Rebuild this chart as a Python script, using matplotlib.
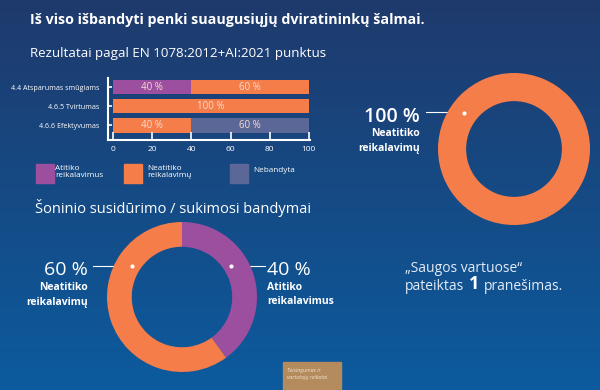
import numpy as np
import matplotlib
matplotlib.use("Agg")
import matplotlib.pyplot as plt
from matplotlib.patches import Rectangle

plt.rcParams['font.family'] = ['Open Sans', 'DejaVu Sans']

# data
criteria = ['4.4 Atsparumas smūgiams', '4.6.5 Tvirtumas', '4.6.6 Efektyvumas']
atitiko = [40, 0, 0]
neatitiko = [60, 100, 40]
nebandyta = [0, 0, 60]
legend_labels = ['Atitiko\nreikalavimus', 'Neatitiko\nreikalavimų', 'Nebandyta']
x_ticks = [0, 20, 40, 60, 80, 100]

donut1_values = [100]
donut2_values = [40, 60]   # Atitiko, Neatitiko

PURPLE = '#9c4f9f'
ORANGE = '#f47d4a'
GREY = '#5b6796'
WHITE = 'white'
LABEL = '#f6dcd0'
SOFT = '#e3ebf6'

W, H = 600, 390
fig = plt.figure(figsize=(6, 3.9), dpi=100)

# background with vertical gradient
bg = fig.add_axes([0, 0, 1, 1], zorder=0)
grad = np.linspace(0, 1, 256).reshape(-1, 1)
top = np.array([0x1f, 0x3a, 0x6c]) / 255
bot = np.array([0x0c, 0x5b, 0x9e]) / 255
img = top + (bot - top) * grad[:, :, None]
bg.imshow(img, extent=[0, W, H, 0], aspect='auto')
bg.set_xlim(0, W)
bg.set_ylim(H, 0)
bg.axis('off')

def px(x, y, w, h):
    return [x / W, 1 - (y + h) / H, w / W, h / H]

# titles
bg.text(30, 20, 'Iš viso išbandyti penki suaugusiųjų dviratininkų šalmai.',
        color=WHITE, fontsize=10.3, fontweight='bold', va='center')
bg.text(30, 53, 'Rezultatai pagal EN 1078:2012+AI:2021 punktus',
        color=WHITE, fontsize=9.6, fontweight='medium', va='center')
bg.text(35, 208, 'Šoninio susidūrimo / sukimosi bandymai',
        color=WHITE, fontsize=10.5, fontweight='medium', va='center')

# stacked bar chart
ax = fig.add_axes(px(108, 78, 202, 62), zorder=2)
ax.patch.set_alpha(0)
y = np.arange(len(criteria))
left = np.zeros(len(criteria))
for vals, col in [(atitiko, PURPLE), (neatitiko, ORANGE), (nebandyta, GREY)]:
    vals = np.array(vals)
    ax.barh(y, vals, left=left, height=0.74, color=col)
    for yi, (l, v) in enumerate(zip(left, vals)):
        if v > 0:
            ax.text(l + v / 2, yi, f'{v} %', color=LABEL, fontsize=7,
                    ha='center', va='center')
    left = left + vals
ax.set_xlim(-2.6, 100.6)
ax.set_ylim(2.76, -0.47)
ax.set_yticks(y)
ax.set_yticklabels(criteria)
ax.set_xticks(x_ticks)
for s in ['top', 'right']:
    ax.spines[s].set_visible(False)
for s in ['left', 'bottom']:
    ax.spines[s].set_color(WHITE)
    ax.spines[s].set_linewidth(1.5)
ax.tick_params(axis='x', direction='in', length=6, width=1.2, colors=WHITE,
               labelsize=6, pad=4)
ax.tick_params(axis='y', direction='in', length=3, width=1.2, colors=WHITE,
               labelsize=5.1, pad=6)

# legend boxes
for x0, col in [(36, PURPLE), (124, ORANGE), (230, GREY)]:
    bg.add_patch(Rectangle((x0, 164), 18, 19, color=col))
bg.text(55, 165, legend_labels[0], color=WHITE, fontsize=5.9, va='top', linespacing=1.0)
bg.text(147, 165, legend_labels[1], color=WHITE, fontsize=5.9, va='top', linespacing=1.0)
bg.text(253, 171, legend_labels[2], color=WHITE, fontsize=5.9, va='center')

# donut 1
d1 = fig.add_axes(px(438, 73, 152, 152), zorder=2)
d1.pie(donut1_values, colors=[ORANGE], startangle=90,
       wedgeprops=dict(width=0.37, linewidth=0))
d1.set_xlim(-1, 1)
d1.set_ylim(-1, 1)
d1.set_aspect('equal')
d1.plot([-0.66], [0.48], marker='o', ms=2, color=WHITE)

bg.text(420, 117, f'{donut1_values[0]} %', color=WHITE, fontsize=14,
        fontweight='semibold', ha='right', va='center')
bg.text(420, 134, 'Neatitiko', color=WHITE, fontsize=7.5, fontweight='bold',
        ha='right', va='center')
bg.text(420, 148, 'reikalavimų', color=WHITE, fontsize=7.5, fontweight='bold',
        ha='right', va='center')
bg.plot([426, 464], [112, 112], color=WHITE, lw=0.8, zorder=5)

# donut 2
d2 = fig.add_axes(px(107, 222, 150, 150), zorder=2)
d2.pie(donut2_values, colors=[PURPLE, ORANGE], startangle=90, counterclock=False,
       wedgeprops=dict(width=0.33, linewidth=0))
d2.set_xlim(-1, 1)
d2.set_ylim(-1, 1)
d2.set_aspect('equal')
d2.plot([-0.67, 0.65], [0.42, 0.42], 'o', ms=2, color=WHITE)

bg.text(88, 270, f'{donut2_values[1]} %', color=WHITE, fontsize=14,
        ha='right', va='center')
bg.text(88, 288, 'Neatitiko', color=WHITE, fontsize=7.5, fontweight='bold',
        ha='right', va='center')
bg.text(88, 302, 'reikalavimų', color=WHITE, fontsize=7.5, fontweight='bold',
        ha='right', va='center')
bg.plot([93, 132], [266, 266], color=WHITE, lw=0.8)
bg.text(267, 270, f'{donut2_values[0]} %', color=WHITE, fontsize=14,
        ha='left', va='center')
bg.text(267, 288, 'Atitiko', color=WHITE, fontsize=7.5, fontweight='bold',
        ha='left', va='center')
bg.text(267, 302, 'reikalavimus', color=WHITE, fontsize=7.5, fontweight='bold',
        ha='left', va='center')
bg.plot([231, 265], [266, 266], color=WHITE, lw=0.8)

# notice
bg.text(405, 268, '„Saugos vartuose“', color=SOFT, fontsize=10, va='center')
bg.text(405, 286, 'pateiktas', color=SOFT, fontsize=10, va='center')
bg.text(469, 284, '1', color=WHITE, fontsize=13, fontweight='bold', va='center')
bg.text(484, 286, 'pranešimas.', color=SOFT, fontsize=10, va='center')

# footer box
bg.add_patch(Rectangle((283, 362), 58, 28, color='#b48b5c', zorder=3))
bg.text(287, 368, 'Teisingumas ir\nvartotojų reikalai', color='#f3e7d6',
        fontsize=3.8, style='italic', va='top', linespacing=1.5, zorder=4)

fig.savefig('out.png', dpi=100)
